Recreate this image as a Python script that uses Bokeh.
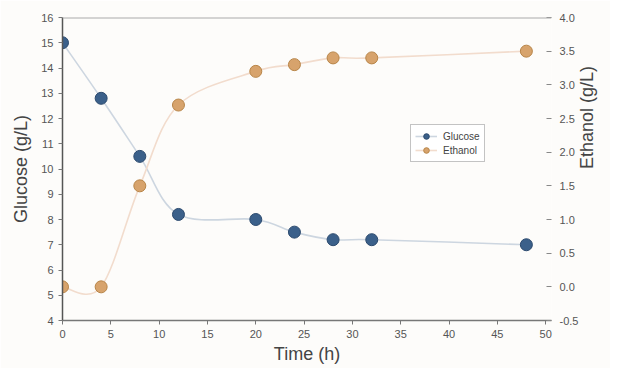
import math
from bokeh.plotting import figure
from bokeh.models import (Range1d, LinearAxis, Legend, LegendItem, Span,
                          ColumnDataSource, FixedTicker, NumeralTickFormatter)
from bokeh.embed import file_html
from bokeh.resources import INLINE

# ---- data ----
time_h = [0, 4, 8, 12, 20, 24, 28, 32, 48]
glucose = [15.0, 12.8, 10.5, 8.2, 8.0, 7.5, 7.2, 7.2, 7.0]
ethanol = [0.0, 0.0, 1.5, 2.7, 3.2, 3.3, 3.4, 3.4, 3.5]
x_ticks = [0, 5, 10, 15, 20, 25, 30, 35, 40, 45, 50]
left_ticks = list(range(4, 17))
right_ticks = [-0.5, 0.0, 0.5, 1.0, 1.5, 2.0, 2.5, 3.0, 3.5, 4.0]

FONT = "Liberation Sans"


def smooth_segments(xs, ys):
    """Catmull-Rom style cubic Bezier control points (like Excel smoothing)."""
    n = len(xs)
    out = dict(x0=[], y0=[], x1=[], y1=[], cx0=[], cy0=[], cx1=[], cy1=[])
    for i in range(n - 1):
        im1 = max(i - 1, 0)
        ip2 = min(i + 2, n - 1)
        out["x0"].append(xs[i]); out["y0"].append(ys[i])
        out["x1"].append(xs[i + 1]); out["y1"].append(ys[i + 1])
        out["cx0"].append(xs[i] + (xs[i + 1] - xs[im1]) / 6)
        out["cy0"].append(ys[i] + (ys[i + 1] - ys[im1]) / 6)
        out["cx1"].append(xs[i + 1] - (xs[ip2] - xs[i]) / 6)
        out["cy1"].append(ys[i + 1] - (ys[ip2] - ys[i]) / 6)
    return ColumnDataSource(out)


p = figure(width=610, height=368, output_backend="svg", toolbar_location=None,
           x_range=Range1d(0, 50.6), y_range=Range1d(4, 16),
           min_border_left=62, min_border_right=55, min_border_top=17,
           min_border_bottom=48)
p.extra_y_ranges = {"eth": Range1d(-0.5, 4.0)}

p.background_fill_color = "#fdfcfa"
p.border_fill_color = "#fdfcfa"
p.outline_line_color = None
p.xgrid.grid_line_color = None
p.ygrid.grid_line_color = None

# top border line
p.add_layout(Span(location=16, dimension="width", line_color="#a9a9a9", line_width=2))

# smooth lines
gl = p.bezier(x0="x0", y0="y0", x1="x1", y1="y1", cx0="cx0", cy0="cy0",
              cx1="cx1", cy1="cy1", source=smooth_segments(time_h, glucose),
              line_color="#cdd6e0", line_width=1.6)
el = p.bezier(x0="x0", y0="y0", x1="x1", y1="y1", cx0="cx0", cy0="cy0",
              cx1="cx1", cy1="cy1", source=smooth_segments(time_h, ethanol),
              line_color="#f2dccd", line_width=1.6, y_range_name="eth")

gs = p.scatter(time_h, glucose, size=12, fill_color="#3b608a", line_color="#2c4a6e",
               line_width=1)
es = p.scatter(time_h, ethanol, size=12, fill_color="#d7a36c", line_color="#b88548",
               line_width=1, y_range_name="eth")

# axes
xa = p.xaxis[0]
xa.ticker = FixedTicker(ticks=x_ticks)
xa.axis_label = "Time (h)"
ya = p.yaxis[0]
ya.ticker = FixedTicker(ticks=left_ticks)
ya.axis_label = "Glucose (g/L)"

ra = LinearAxis(y_range_name="eth", axis_label="Ethanol (g/L)")
ra.ticker = FixedTicker(ticks=right_ticks)
ra.formatter = NumeralTickFormatter(format="0.0")
p.add_layout(ra, "right")

for ax in (xa, ya, ra):
    ax.major_label_text_font = FONT
    ax.major_label_text_font_size = "11px"
    ax.major_label_text_color = "#555555"
    ax.axis_label_text_font = FONT
    ax.axis_label_text_font_size = "18px"
    ax.axis_label_text_font_style = "normal"
    ax.axis_label_text_color = "#444444"
    ax.minor_tick_line_color = None
    ax.major_tick_line_color = "#777777"
    ax.major_tick_out = 4
    ax.major_tick_in = 0

xa.axis_line_color = "#777777"
xa.axis_line_width = 1.5
xa.axis_label_standoff = 3
ya.axis_line_color = "#555555"
ya.axis_line_width = 1.5
ya.axis_label_standoff = 7
ra.axis_line_color = None
ra.major_tick_out = 0
ra.major_tick_in = 5
ra.major_tick_line_color = "#888888"
ra.major_label_standoff = 8
ra.axis_label_standoff = 6
ra.axis_label_orientation = math.pi / 2

legend = Legend(items=[LegendItem(label="Glucose", renderers=[gl, gs]),
                       LegendItem(label="Ethanol", renderers=[el, es])],
                location=(348, 158))
legend.label_text_font = FONT
legend.label_text_font_size = "10px"
legend.label_text_color = "#444444"
legend.border_line_color = "#888888"
legend.border_line_width = 1
legend.background_fill_color = "#ffffff"
legend.glyph_width = 22
legend.glyph_height = 14
legend.label_height = 14
legend.spacing = 0
legend.padding = 4
legend.margin = 0
legend.label_standoff = 6
p.add_layout(legend, "center")

open("out.html", "w").write(file_html(p, INLINE))
